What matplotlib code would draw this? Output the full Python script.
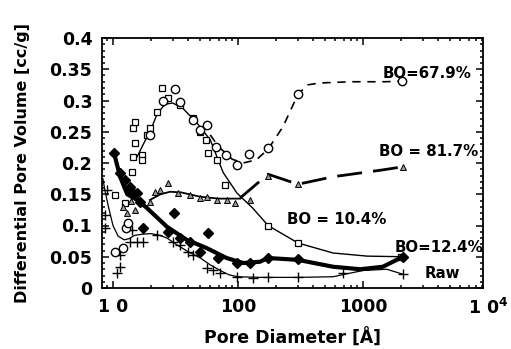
import numpy as np
import matplotlib
matplotlib.use('Agg')
import matplotlib.pyplot as plt
from matplotlib.ticker import FixedLocator, FixedFormatter, MultipleLocator, LogLocator, NullFormatter

plt.rcParams['font.family'] = ['DejaVu Sans']
plt.rcParams['font.weight'] = 'bold'
plt.rcParams['mathtext.fontset'] = 'dejavusans'

# BO=67.9% (open circles)
circ_x = [10.4, 12.0, 12.7, 13.2, 19.8, 25, 31.4, 34.4, 43.7, 49.7, 56.5, 66.6, 80, 98, 122, 174, 302, 2050]
circ_y = [0.058, 0.064, 0.096, 0.104, 0.245, 0.299, 0.318, 0.298, 0.269, 0.253, 0.261, 0.226, 0.213, 0.197, 0.214, 0.224, 0.31, 0.331]
circ_fit_x = [60, 70, 90, 110, 140, 174, 229, 302, 360, 450, 800, 1500, 2050]
circ_fit_y = [0.245, 0.226, 0.206, 0.2, 0.205, 0.222, 0.258, 0.31, 0.325, 0.328, 0.33, 0.33, 0.331]

# BO=10.4% (open squares)
sq_x = [10.4, 12.5, 14.2, 14.5, 14.5, 15, 15, 17, 17, 18.8, 19.8, 22.5, 24.6, 27.6, 34.4, 43.7, 49.7, 55, 57.6, 68.1, 79, 174, 302, 2000]
sq_y = [0.149, 0.136, 0.186, 0.21, 0.256, 0.266, 0.232, 0.213, 0.205, 0.245, 0.256, 0.282, 0.32, 0.304, 0.293, 0.272, 0.25, 0.237, 0.216, 0.205, 0.165, 0.1, 0.072, 0.05]
sq_fit_x = [15.6, 18, 19.8, 22.5, 26, 30, 36, 47, 60, 76, 98, 131, 174, 302, 576, 1080, 2090]
sq_fit_y = [0.21, 0.235, 0.25, 0.278, 0.294, 0.296, 0.288, 0.264, 0.237, 0.185, 0.152, 0.128, 0.1, 0.072, 0.056, 0.051, 0.05]

# BO=81.7% (triangles)
tri_x = [12, 13, 14, 15, 19.8, 21.6, 23.7, 27.6, 33, 41.3, 49.7, 56, 68, 81, 94.5, 124, 174, 302, 2090]
tri_y = [0.13, 0.12, 0.14, 0.125, 0.138, 0.154, 0.157, 0.168, 0.152, 0.149, 0.144, 0.146, 0.141, 0.141, 0.136, 0.141, 0.18, 0.166, 0.194]
tri_fit_x = [19.8, 24, 28.6, 35, 50, 70, 104]
tri_fit_y = [0.141, 0.15, 0.154, 0.153, 0.146, 0.143, 0.143]
tri_dash_x = [104, 174, 302, 576, 1440, 2090]
tri_dash_y = [0.144, 0.182, 0.166, 0.178, 0.189, 0.194]

# BO=12.4% (filled diamonds)
dia_x = [10.2, 11.4, 12.5, 13.7, 14.2, 15.6, 16.4, 17.4, 27.6, 30.7, 34.4, 41, 50, 57.6, 69, 98, 125, 174, 302, 2090]
dia_y = [0.216, 0.184, 0.173, 0.162, 0.154, 0.152, 0.138, 0.096, 0.09, 0.12, 0.08, 0.074, 0.058, 0.088, 0.048, 0.040, 0.040, 0.048, 0.046, 0.05]
dia_fit_x = [10.2, 11.4, 13, 15.6, 18.7, 27, 39, 56, 81, 110, 150, 174, 302, 576, 950, 1440, 2090]
dia_fit_y = [0.216, 0.178, 0.15, 0.141, 0.128, 0.098, 0.077, 0.064, 0.048, 0.04, 0.042, 0.048, 0.045, 0.034, 0.030, 0.034, 0.05]

# Raw (plus)
raw_x = [8.7, 8.95, 8.7, 10.8, 11.4, 11.4, 13.7, 14.2, 15.6, 17.4, 22.5, 30.2, 34.4, 39.8, 43.7, 56.5, 63, 71.6, 98, 131, 174, 302, 690, 2090]
raw_y = [0.117, 0.157, 0.096, 0.024, 0.034, 0.053, 0.074, 0.093, 0.074, 0.074, 0.085, 0.074, 0.069, 0.058, 0.053, 0.032, 0.029, 0.024, 0.018, 0.016, 0.018, 0.018, 0.024, 0.022]
raw_fit_x = [8.3, 8.6, 9.2, 10, 11, 12.3, 13.5, 14.8, 17, 20, 23, 27, 32.5, 40, 50, 60, 72, 85, 100, 150, 302, 576, 800, 1000, 1550, 2090]
raw_fit_y = [0.175, 0.157, 0.13, 0.1, 0.083, 0.077, 0.079, 0.084, 0.086, 0.087, 0.085, 0.08, 0.069, 0.058, 0.048, 0.037, 0.028, 0.021, 0.018, 0.017, 0.017, 0.018, 0.024, 0.028, 0.030, 0.022]

labels = ['BO=67.9%', 'BO = 81.7%', 'BO = 10.4%', 'BO=12.4%', 'Raw']
label_x = [1445, 1343, 247, 1803, 3133]
label_y = [0.344, 0.218, 0.109, 0.064, 0.024]

yticks = [0, 0.05, 0.1, 0.15, 0.2, 0.25, 0.3, 0.35, 0.4]
ytick_labels = ['0', '0.05', '0.1', '0.15', '0.2', '0.25', '0.3', '0.35', '0.4']
xticks = [10, 100, 1000]
xtick_labels = ['1 0', '100', '1000']

fig = plt.figure(figsize=(5.11, 3.49), dpi=100)
ax = fig.add_axes([102 / 511, 1 - 288 / 349, 381 / 511, 250 / 349])

ax.plot(raw_fit_x, raw_fit_y, '-', color='k', lw=0.9)
ax.plot(raw_x, raw_y, '+', color='k', ms=7, mew=1.0, ls='none')

ax.plot(sq_fit_x, sq_fit_y, '-', color='k', lw=1.0)
ax.plot(sq_x, sq_y, 's', mfc='white', mec='k', ms=5, mew=0.9, ls='none')

ax.plot(circ_fit_x, circ_fit_y, color='k', lw=1.2, dashes=(5, 4))
ax.plot(circ_x, circ_y, 'o', mfc='white', mec='k', ms=6, mew=1.0, ls='none')

ax.plot(tri_fit_x, tri_fit_y, '-', color='k', lw=1.3)
ax.plot(tri_dash_x, tri_dash_y, color='k', lw=2.0, dashes=(9, 4))
ax.plot(tri_x, tri_y, '^', mfc='0.6', mec='k', ms=5, mew=0.7, ls='none')

ax.plot(dia_fit_x, dia_fit_y, '-', color='k', lw=3.0)
ax.plot(dia_x, dia_y, 'D', color='k', ms=5.5, ls='none')

for t, lx, ly in zip(labels, label_x, label_y):
    ax.text(lx, ly, t, fontsize=10.8, fontweight='bold', va='center', ha='left')

ax.set_xscale('log')
ax.set_xlim(8.17, 9120)
ax.set_ylim(0, 0.4)

ax.xaxis.set_major_locator(FixedLocator(xticks))
ax.xaxis.set_major_formatter(FixedFormatter(xtick_labels))
ax.xaxis.set_minor_locator(LogLocator(base=10, subs=np.arange(2, 10)))
ax.xaxis.set_minor_formatter(NullFormatter())
ax.yaxis.set_major_locator(FixedLocator(yticks))
ax.yaxis.set_major_formatter(FixedFormatter(ytick_labels))
ax.yaxis.set_minor_locator(MultipleLocator(0.01))

ax.tick_params(which='both', direction='in', top=True, right=True, width=1.1)
ax.tick_params(which='major', length=5, labelsize=12.5, pad=7)
ax.tick_params(which='minor', length=2.5)
ax.text(1e4, -0.0155, r'$\mathbf{1\ 0^{4}}$', fontsize=12.5, ha='center', va='top')

for s in ax.spines.values():
    s.set_linewidth(1.3)

ax.set_xlabel('Pore Diameter [Å]', fontsize=12.5, fontweight='bold', labelpad=9)
ax.set_ylabel('Differential Pore Volume [cc/g]', fontsize=11.5, fontweight='bold', labelpad=14)

fig.savefig('out.png', dpi=100)
